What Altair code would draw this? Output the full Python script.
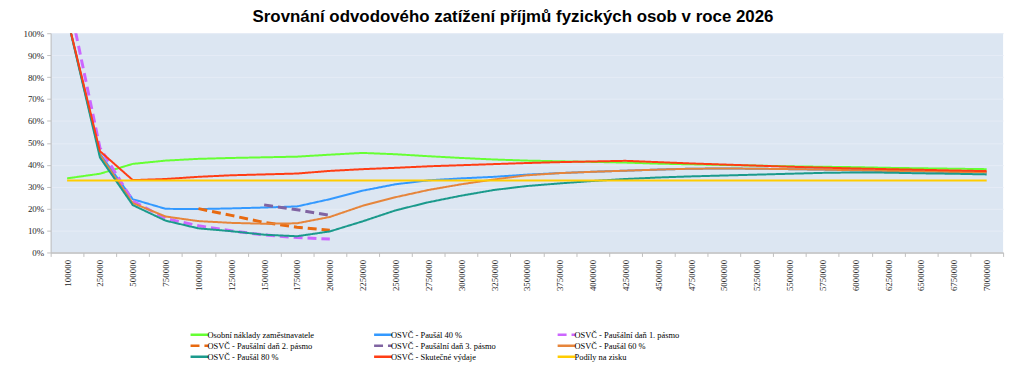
import altair as alt
import pandas as pd

categories = ["100000", "250000", "500000", "750000", "1000000", "1250000", "1500000",
              "1750000", "2000000", "2250000", "2500000", "2750000", "3000000", "3250000",
              "3500000", "3750000", "4000000", "4250000", "4500000", "4750000", "5000000",
              "5250000", "5500000", "5750000", "6000000", "6250000", "6500000", "6750000",
              "7000000"]

series_names = [
    "Osobní náklady zaměstnavatele",
    "OSVČ - Paušál 40 %",
    "OSVČ - Paušální daň 1. pásmo",
    "OSVČ - Paušální daň 2. pásmo",
    "OSVČ - Paušální daň 3. pásmo",
    "OSVČ - Paušál 60 %",
    "OSVČ - Paušál 80 %",
    "OSVČ - Skutečné výdaje",
    "Podíly na zisku",
]

osobni_naklady = [33.8, 35.9, 40.4, 41.9, 42.7, 43.1, 43.4, 43.7, 44.6, 45.4, 44.8, 43.9, 43.1,
                  42.4, 41.9, 41.6, 41.3, 41.0, 40.5, 40.2, 39.9, 39.6, 39.3, 39.1, 38.9, 38.6,
                  38.4, 38.2, 38.0]
pausal_40 = [107.5, 45.0, 24.3, 19.9, 19.8, 20.1, 20.5, 21.0, 24.3, 28.2, 31.1, 32.9, 33.8,
             34.5, 35.5, 36.2, 36.8, 37.3, 37.8, 38.2, 38.3, 38.2, 38.0, 37.8, 37.5, 37.2,
             37.0, 36.7, 36.5]
pausalni_dan_1 = [119.0, 47.8, 23.5, 15.5, 12.2, 9.9, 8.0, 6.8, 6.1] + [None] * 20
pausalni_dan_2 = [None] * 4 + [20.0, 16.9, 13.7, 11.5, 10.1] + [None] * 20
pausalni_dan_3 = [None] * 6 + [21.7, 19.5, 16.9] + [None] * 20
pausal_60 = [107.5, 44.5, 22.5, 16.4, 14.3, 13.5, 13.1, 13.3, 16.2, 21.3, 25.2, 28.5, 31.1,
             33.3, 35.2, 36.2, 36.8, 37.3, 37.8, 38.2, 38.3, 38.2, 38.0, 37.8, 37.5, 37.2,
             37.0, 36.7, 36.5]
pausal_80 = [107.5, 43.3, 21.6, 14.5, 11.0, 9.7, 8.1, 7.4, 9.6, 14.2, 19.2, 22.9, 25.9,
             28.5, 30.3, 31.5, 32.6, 33.5, 34.2, 34.7, 35.1, 35.5, 35.9, 36.3, 36.5, 36.4,
             36.1, 35.9, 35.6]
skutecne_vydaje = [107.5, 46.2, 33.0, 33.5, 34.5, 35.2, 35.6, 36.0, 37.2, 38.0, 38.6, 39.3,
                   39.8, 40.3, 40.8, 41.2, 41.5, 41.8, 41.2, 40.6, 40.1, 39.6, 39.1, 38.7,
                   38.3, 38.0, 37.7, 37.4, 37.1]
podily_na_zisku = [32.85] * 29

all_values = [osobni_naklady, pausal_40, pausalni_dan_1, pausalni_dan_2, pausalni_dan_3,
              pausal_60, pausal_80, skutecne_vydaje, podily_na_zisku]

colors = ["#66FF33", "#3399FF", "#CC66FF", "#E86A10", "#8064A2",
          "#E6853B", "#1B9A8C", "#FF3D14", "#FFCC00"]
dashes = [[1, 0], [1, 0], [9, 5], [9, 5], [9, 5], [1, 0], [1, 0], [1, 0], [1, 0]]
widths = [2, 2, 3, 3, 3, 2, 2, 2, 2]

rows = []
for name, vals in zip(series_names, all_values):
    for cat, v in zip(categories, vals):
        if v is not None:
            rows.append({"prijem": cat, "serie": name, "podil": v / 100.0})
df = pd.DataFrame(rows)

FONT = "Liberation Sans Narrow"


def make_legend():
    return alt.Legend(
        title=None, orient="none", legendX=144, legendY=298, columns=3,
        direction="horizontal", gridAlign="all", columnPadding=55, rowPadding=-1,
        symbolType="M-2,0H2", symbolSize=81, symbolStrokeWidth=2.5,
        labelFont=FONT, labelFontSize=8.5, labelColor="#000000", labelOffset=2,
        labelLimit=300,
    )


color_enc = alt.Color(
    "serie:N",
    scale=alt.Scale(domain=series_names, range=colors),
    legend=make_legend(),
)
dash_enc = alt.StrokeDash(
    "serie:N",
    scale=alt.Scale(domain=series_names, range=dashes),
    legend=make_legend(),
)

x_enc = alt.X(
    "prijem:N", sort=categories,
    scale=alt.Scale(type="band", paddingInner=0, paddingOuter=0, domain=categories),
    axis=alt.Axis(title=None, labelAngle=-90, labelFont=FONT, labelFontSize=9,
                  labelColor="#262626", tickBand="extent", tickSize=4,
                  tickColor="#BFBFBF", domainColor="#BFBFBF", domainWidth=1.5,
                  labelPadding=3, grid=False),
)
y_enc = alt.Y(
    "podil:Q",
    scale=alt.Scale(domain=[0, 1], nice=False),
    axis=alt.Axis(title=None, format=".0%", values=[i / 10 for i in range(11)],
                  labelFont=FONT, labelFontSize=9, labelColor="#262626",
                  tickSize=4, tickColor="#BFBFBF", domainColor="#BFBFBF",
                  labelPadding=3, grid=True, gridColor="#E6ECF6", gridWidth=1),
)

layers = []
for name, w in zip(series_names, widths):
    layers.append(
        alt.Chart(df)
        .transform_filter(alt.datum.serie == name)
        .mark_line(clip=True, strokeWidth=w)
        .encode(x=x_enc, y=y_enc, color=color_enc, strokeDash=dash_enc)
    )

chart = (
    alt.layer(*layers)
    .properties(
        width=960, height=221,
        background="#FFFFFF",
        autosize=alt.AutoSizeParams(type="none"),
        padding={"left": 43, "top": 24, "right": 13, "bottom": 110},
        title=alt.TitleParams(
            "Srovnání odvodového zatížení příjmů fyzických osob v roce 2026",
            font="Liberation Sans", fontSize=17, fontWeight="bold", color="#000000",
            anchor="middle", dx=-14, offset=3,
        ),
    )
    .configure_view(fill="#DCE6F2", stroke=None)
)

chart.save("out.html", embed_options={"renderer": "svg", "actions": False})
